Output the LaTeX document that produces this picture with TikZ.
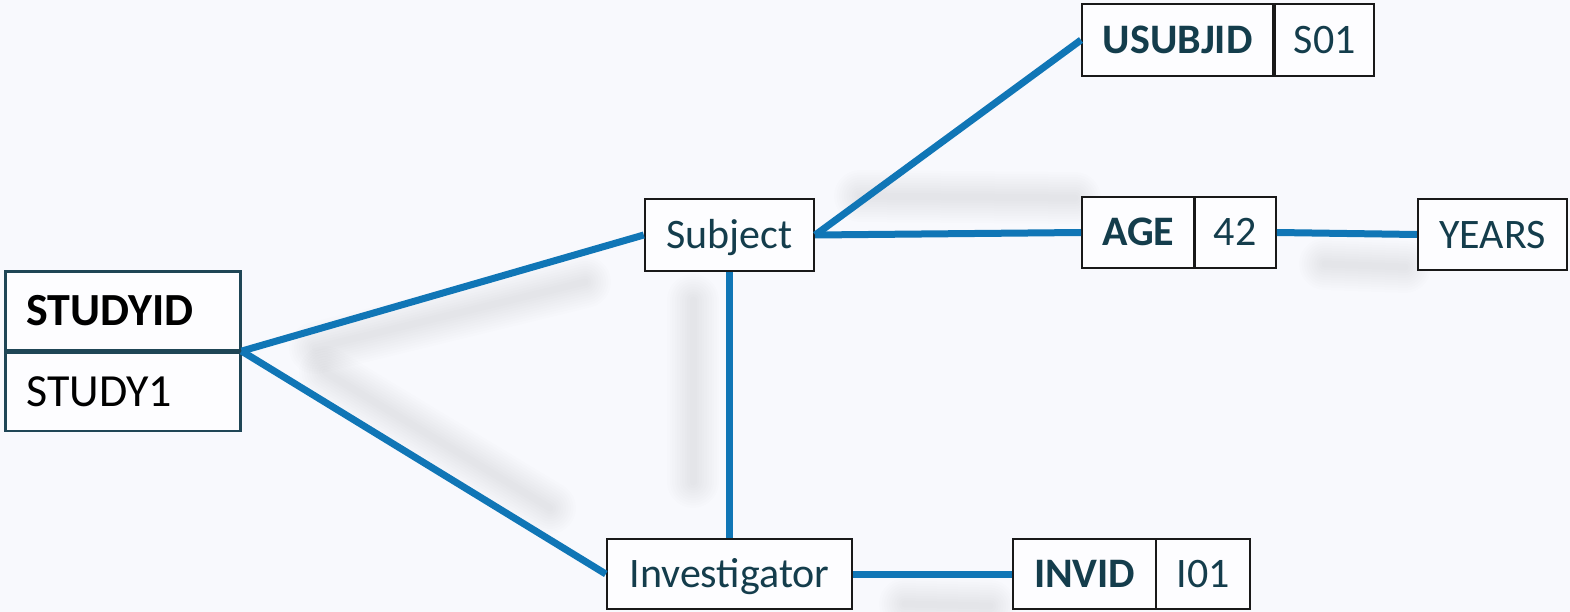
\documentclass[tikz,border=0pt]{standalone}
\usepackage{fontspec}
\setmainfont{Carlito}
\definecolor{bg}{RGB}{248,249,253}
\definecolor{boxfill}{RGB}{253,253,255}
\definecolor{tealtext}{RGB}{20,61,76}
\definecolor{tealborder}{RGB}{31,70,86}
\definecolor{linkblue}{RGB}{16,118,182}
\tikzset{
  box/.style={draw=black!90, line width=2.4pt, fill=boxfill, text=tealtext, inner sep=0pt,
    font=\fontsize{42}{42}\selectfont, text height=27pt, text depth=0pt},
  keybox/.style={box, font=\bfseries\fontsize{42}{42}\selectfont},
  sidbox/.style={draw=tealborder, line width=2.6pt, fill=boxfill, text=black, inner xsep=21pt, inner ysep=0pt,
    text width=193pt, align=left, minimum height=78.5pt, text height=29.5pt, text depth=0pt,
    font=\fontsize{46}{46}\selectfont},
  link/.style={draw=linkblue, line width=7pt},
}
\newcommand\softshade[1]{%
  \foreach \w in {52,47,42,37,32,27,22,17,12,7}{%
    \draw[line width=\w pt, black, opacity=0.0085, line cap=round] #1;}}
\begin{document}
\begin{tikzpicture}[x=1pt,y=-1pt]
\fill[bg] (0,0) rectangle (1570,612);
\useasboundingbox (0,0) rectangle (1570,612);
% soft shadows
\softshade{(693,300) -- (693,482)}
\softshade{(860,196) -- (1075,198)}
\softshade{(315,348) -- (585,282)}
\softshade{(325,372) -- (550,508)}
\softshade{(1325,264) -- (1405,267)}
\softshade{(905,604) -- (990,606)}
% nodes
\node[sidbox, font=\bfseries\fontsize{46}{46}\selectfont, anchor=north west] (sid) at (4,270) {STUDYID};
\node[sidbox, anchor=north west] (sidval) at (sid.south west) {STUDY1};
\node[box, minimum width=169pt, minimum height=72pt] (subj) at (729.5,235) {Subject};
\node[box, minimum width=245pt, minimum height=70pt] (inv) at (729.5,574) {Investigator};
\node[keybox, minimum width=191pt, minimum height=72pt, anchor=west] (usubj) at (1081,40) {USUBJID};
\node[box, minimum width=99pt, minimum height=72pt, anchor=west] (s01) at (1274,40) {S01};
\node[keybox, minimum width=112pt, minimum height=71pt, anchor=west] (age) at (1081,232.5) {AGE};
\node[box, minimum width=81pt, minimum height=71pt, anchor=west] (v42) at (1193.5,232.5) {42};
\node[box, minimum width=149pt, minimum height=71pt] (years) at (1492.5,234.5) {YEARS};
\node[keybox, minimum width=143pt, minimum height=70pt, anchor=west] (invid) at (1012,574) {INVID};
\node[box, minimum width=94pt, minimum height=70pt, anchor=west] (i01) at (1155,574) {I01};
% connectors
\draw[link] (sid.south east) -- (subj.west);
\draw[link] (sid.south east) -- (inv.west);
\draw[link] (subj.east) -- (usubj.west);
\draw[link] (subj.east) -- (age.west);
\draw[link] (v42.east) -- (years.west);
\draw[link] (subj.south) -- (inv.north);
\draw[link] (inv.east) -- (invid.west);
\end{tikzpicture}
\end{document}
